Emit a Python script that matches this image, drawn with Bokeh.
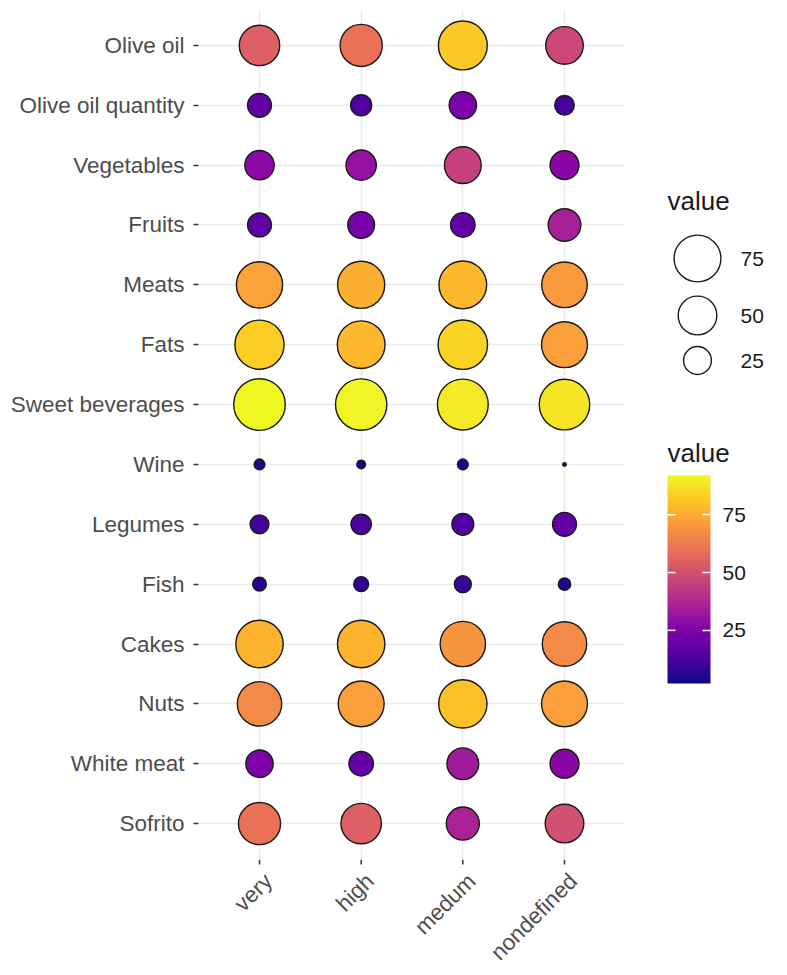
import math
import numpy as np
from bokeh.plotting import figure
from bokeh.models import (ColumnDataSource, FactorRange, Range1d, LinearColorMapper,
                          ColorBar, FixedTicker)
from bokeh.palettes import Plasma256
from bokeh.layouts import row, column
from bokeh.core.properties import value
from bokeh.embed import file_html
from bokeh.resources import INLINE

# ---------------- data ----------------
categories = ["Olive oil", "Olive oil quantity", "Vegetables", "Fruits", "Meats", "Fats",
              "Sweet beverages", "Wine", "Legumes", "Fish", "Cakes", "Nuts", "White meat", "Sofrito"]
levels = ["very", "high", "medum", "nondefined"]
very = [55, 18, 28, 18, 73, 83, 92, 4, 11, 6, 77, 67, 24, 60]
high = [60, 14, 30, 23, 76, 78, 91, 3, 13, 7, 77, 72, 19, 55]
medum = [82, 24, 45, 19, 78, 84, 89, 4, 15, 9, 70, 80, 33, 36]
nondefined = [47, 12, 27, 35, 71, 72, 88, 2, 18, 5, 67, 72, 27, 50]
size_breaks = [75, 50, 25]
color_breaks = [25, 50, 75]

series = {"very": very, "high": high, "medum": medum, "nondefined": nondefined}

xs, ys, vals = [], [], []
for lev in levels:
    for cat, v in zip(categories, series[lev]):
        xs.append(lev)
        ys.append(cat)
        vals.append(v)
vals = np.array(vals, dtype=float)
vmin, vmax = vals.min(), vals.max()

D_MIN, D_MAX = 5.0, 53.0
LW = 1.4


def area_size(v):
    t = (np.asarray(v, dtype=float) - vmin) / (vmax - vmin)
    t = np.clip(t, 0, 1)
    return D_MIN + (D_MAX - D_MIN) * np.sqrt(t) - LW


src = ColumnDataSource(dict(x=xs, y=ys, v=vals, s=area_size(vals)))
mapper = LinearColorMapper(palette=Plasma256, low=vmin, high=vmax)

FONT = "Liberation Sans"
AXIS_GREY = "#4D4D4D"
DARK = "#1A1A1A"
TICK = "#333333"

LEFT, FRAME_W, RIGHT = 198, 427, 10
TOP, FRAME_H = 9, 850
STRIP_H = 111
TOTAL_H = TOP + FRAME_H + STRIP_H

# ---------------- main plot ----------------
p = figure(x_range=FactorRange(factors=levels, range_padding=0.05),
           y_range=FactorRange(factors=list(reversed(categories)), range_padding=0.2 / 14),
           frame_width=FRAME_W, frame_height=FRAME_H,
           min_border_left=LEFT, min_border_right=RIGHT, min_border_top=TOP, min_border_bottom=0,
           output_backend="svg", toolbar_location=None)
p.outline_line_color = None
p.background_fill_color = "white"
p.border_fill_color = "white"
p.xaxis.visible = False

p.scatter(x="x", y="y", size="s", source=src,
          fill_color={"field": "v", "transform": mapper},
          line_color="#1a1a1a", line_width=LW)

for g in (p.xgrid, p.ygrid):
    g.grid_line_color = "#EBEBEB"
    g.grid_line_width = 1.5

ax = p.yaxis
ax.axis_line_color = None
ax.major_tick_in = 0
ax.major_tick_out = 5
ax.major_tick_line_color = TICK
ax.major_tick_line_width = 1.5
ax.minor_tick_line_color = None
ax.major_label_text_font = FONT
ax.major_label_text_font_size = "22.5px"
ax.major_label_text_color = AXIS_GREY
ax.major_label_standoff = 9

# ---------------- x-axis strip (ticks + rotated labels) ----------------
strip = figure(x_range=p.x_range, y_range=Range1d(STRIP_H, 0),
               frame_width=FRAME_W, frame_height=STRIP_H,
               min_border_left=LEFT, min_border_right=RIGHT, min_border_top=0, min_border_bottom=0,
               x_axis_type=None, y_axis_type=None,
               output_backend="svg", toolbar_location=None)
strip.outline_line_color = None
strip.xgrid.visible = False
strip.ygrid.visible = False
strip.background_fill_color = "white"
strip.border_fill_color = "white"
strip.segment(x0=levels, y0=[0] * len(levels), x1=levels, y1=[5] * len(levels),
              line_color=TICK, line_width=1.5)
strip.text(x=levels, y=[9] * len(levels), text=levels, angle=math.pi / 4,
           text_align="right", text_baseline="top",
           text_font=value(FONT), text_font_size=value("22.5px"), text_color=AXIS_GREY)

# ---------------- legend panel ----------------
side = figure(x_range=Range1d(0, 144), y_range=Range1d(TOTAL_H, 0),
              frame_width=144, frame_height=TOTAL_H, min_border=0,
              x_axis_type=None, y_axis_type=None,
              output_backend="svg", toolbar_location=None)
side.outline_line_color = None
side.xgrid.visible = False
side.ygrid.visible = False
side.background_fill_color = "white"
side.border_fill_color = "white"

# size legend
leg_y = [258, 315, 360]
side.text(x=[32, 32], y=[200, 452], text=["value", "value"], text_font=value(FONT),
          text_font_size=value("26px"), text_color=DARK,
          text_baseline="middle", text_align="left")
side.scatter(x=[62] * len(size_breaks), y=leg_y, size=area_size(size_breaks),
             fill_color="white", line_color="#1a1a1a", line_width=LW)
side.text(x=[105] * len(size_breaks), y=leg_y, text=[str(b) for b in size_breaks],
          text_font=value(FONT), text_font_size=value("21px"), text_color=DARK,
          text_baseline="middle", text_align="left")

# colour bar
CB_X, CB_W, CB_BOTTOM, CB_H = 32, 43, 683, 208
cb = ColorBar(color_mapper=mapper, ticker=FixedTicker(ticks=color_breaks),
              location=(CB_X, TOTAL_H - CB_BOTTOM), width=CB_W, height=CB_H, padding=0,
              title=None,
              major_label_text_font=FONT, major_label_text_font_size="21px",
              major_label_text_color=DARK, label_standoff=12,
              major_tick_line_color="white", major_tick_line_width=1.5,
              major_tick_in=8, major_tick_out=0, minor_tick_line_color=None,
              bar_line_color=None, border_line_color=None, background_fill_color=None)
side.add_layout(cb, "center")

# white ticks on the left edge of the colour bar (ggplot draws them on both edges)
tick_y = [CB_BOTTOM - (b - vmin) / (vmax - vmin) * CB_H for b in color_breaks]
lt = side.segment(x0=[CB_X] * len(tick_y), y0=tick_y, x1=[CB_X + 8] * len(tick_y), y1=tick_y,
                  line_color="white", line_width=1.5)
lt.level = "overlay"

layout = row(column(p, strip), side)
open("out.html", "w").write(file_html(layout, INLINE))
